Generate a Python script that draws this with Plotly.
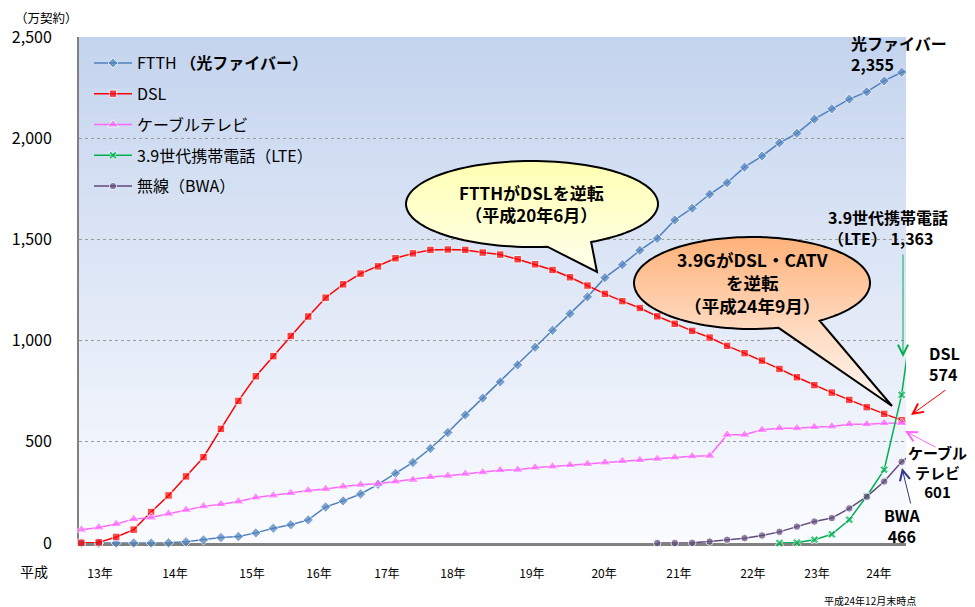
import math
import plotly.graph_objects as go

# ---------------- data (万契約, quarterly, H12.12 .. H24.12) ----------------
quarters = ["H12.12",
            "H13.3", "H13.6", "H13.9", "H13.12", "H14.3", "H14.6", "H14.9", "H14.12",
            "H15.3", "H15.6", "H15.9", "H15.12", "H16.3", "H16.6", "H16.9", "H16.12",
            "H17.3", "H17.6", "H17.9", "H17.12", "H18.3", "H18.6", "H18.9", "H18.12",
            "H19.3", "H19.6", "H19.9", "H19.12", "H20.3", "H20.6", "H20.9", "H20.12",
            "H21.3", "H21.6", "H21.9", "H21.12", "H22.3", "H22.6", "H22.9", "H22.12",
            "H23.3", "H23.6", "H23.9", "H23.12", "H24.3", "H24.6", "H24.9", "H24.12"]

ftth = [0, 0, 0, 0, 0, 1, 6, 15, 27, 32, 50, 73, 90, 114, 178, 208, 242,
        290, 344, 398, 467, 546, 633, 716, 796, 880, 967, 1051, 1133, 1216, 1311, 1375, 1446,
        1505, 1596, 1654, 1723, 1780, 1857, 1912, 1977, 2024, 2094, 2145, 2193, 2229, 2283, 2326, 2355]
dsl = [1, 3, 30, 66, 153, 235, 329, 424, 564, 702, 824, 923, 1023, 1119, 1212, 1278, 1331,
       1367, 1407, 1431, 1448, 1450, 1448, 1435, 1425, 1402, 1377, 1349, 1313, 1272, 1231, 1195, 1161,
       1120, 1083, 1048, 1015, 974, 938, 901, 860, 819, 780, 743, 707, 671, 638, 607, 574]
catv = [66, 77, 94, 118, 126, 145, 164, 181, 192, 205, 225, 235, 247, 260, 267, 279, 288,
        293, 304, 312, 326, 332, 342, 349, 360, 362, 373, 378, 385, 390, 398, 405, 410,
        416, 423, 428, 431, 535, 535, 559, 567, 567, 573, 576, 587, 587, 592, 593, 601]
lte = [None] * 40 + [0, 2, 16, 43, 115, 231, 362, 732, 1363]
bwa = [None] * 33 + [0, 0, 1, 7, 16, 24, 37, 55, 81, 106, 123, 171, 229, 304, 401, 466]

series_names = ["FTTH <b>（光ファイバー）</b>", "DSL", "ケーブルテレビ",
                "3.9世代携帯電話（LTE）", "無線（BWA）"]

year_tick_pos = [1.07, 5.37, 9.78, 13.62, 17.51, 21.29, 25.82, 29.95, 34.24, 38.48, 42.15, 45.70]
year_tick_text = ["13年", "14年", "15年", "16年", "17年", "18年",
                  "19年", "20年", "21年", "22年", "23年", "24年"]
y_ticks = [0, 500, 1000, 1500, 2000, 2500]

# ---------------- geometry helpers (page pixel -> paper) ----------------
OFF = 8                      # page body margin in the browser
W, H = 975 - OFF, 607 - OFF  # figure size that fits the window
PL, PT, PW, PH = 79 - OFF, 37 - OFF, 827, 506
FONT = "Noto Sans CJK JP"


def px(x, y):
    """page-pixel coordinates (as in the reference picture) -> paper coords"""
    x -= OFF
    y -= OFF
    return ((x - PL) / PW, (PT + PH - y) / PH)


def lerp_stops(stops, y):
    if y <= stops[0][0]:
        return stops[0][1]
    for (y0, c0), (y1, c1) in zip(stops[:-1], stops[1:]):
        if y <= y1:
            f = (y - y0) / (y1 - y0)
            return tuple(round(a + (b - a) * f) for a, b in zip(c0, c1))
    return stops[-1][1]


def rgb(c):
    return "rgb(%d,%d,%d)" % c


def clip_half(poly, yv, ge):
    out = []
    n = len(poly)
    for i in range(n):
        p, q = poly[i], poly[(i + 1) % n]
        pin = p[1] >= yv if ge else p[1] <= yv
        qin = q[1] >= yv if ge else q[1] <= yv
        if pin:
            out.append(p)
        if pin != qin:
            t = (yv - p[1]) / (q[1] - p[1])
            out.append((p[0] + t * (q[0] - p[0]), yv))
    return out


def to_path(poly):
    s = ""
    for i, (x, y) in enumerate(poly):
        X, Y = px(x, y)
        s += ("M" if i == 0 else "L") + "%.5f,%.5f" % (X, Y)
    return s + "Z"


def bubble_outline(cx, cy, rx, ry, tr, tl, tip):
    pts = []
    total = tr - (tl - 360)
    steps = 120
    for s in range(steps + 1):
        a = math.radians(tr - total * s / steps)
        pts.append((cx + rx * math.cos(a), cy + ry * math.sin(a)))
    pts.append(tip)
    return pts


shapes = []

# plot-area gradient background (page pixels 37..543)
TOP, BOT = 37, 543
bg_stops = [(TOP, (196, 212, 238)), (BOT, (251, 252, 255))]
nb = 80
for k in range(nb):
    ya = TOP + (BOT - TOP) * k / nb
    yb = TOP + (BOT - TOP) * (k + 1) / nb
    col = lerp_stops(bg_stops, (ya + yb) / 2)
    y0p = px(0, yb + 0.6)[1]
    y1p = px(0, ya)[1]
    shapes.append(dict(type="rect", xref="paper", yref="paper", x0=0, x1=1,
                       y0=max(0, y0p), y1=min(1, y1p), fillcolor=rgb(col),
                       line=dict(width=0), layer="below"))


def add_bubble(outline, stops, band=3.0):
    ys = [p[1] for p in outline]
    ymin, ymax = min(ys), max(ys)
    y = ymin
    while y < ymax:
        yb = min(y + band, ymax)
        poly = clip_half(outline, y, True)
        poly = clip_half(poly, yb + 0.7, False) if poly else poly
        if len(poly) >= 3:
            shapes.append(dict(type="path", xref="paper", yref="paper", path=to_path(poly),
                               fillcolor=rgb(lerp_stops(stops, (y + yb) / 2)),
                               line=dict(width=0), layer="above"))
        y = yb
    shapes.append(dict(type="path", xref="paper", yref="paper", path=to_path(outline),
                       fillcolor="rgba(0,0,0,0)", line=dict(color="#000000", width=2),
                       layer="above"))


yellow = bubble_outline(532, 204, 126, 43, 62, 83, (597, 272))
add_bubble(yellow, [(161, (255, 255, 178)), (245, (255, 255, 222)), (272, (255, 255, 240))])
orange = bubble_outline(752, 283, 118, 46, 55, 77, (892, 406))
add_bubble(orange, [(237, (255, 178, 122)), (329, (255, 218, 192)), (406, (255, 248, 242))])

# ---------------- traces ----------------
colors = ["#4F81BD", "#FF0000", "#FF66FF", "#00B050", "#604A7B"]
symbols = ["diamond", "square", "triangle-up", "x", "circle"]
msizes = [8, 7.5, 10, 7.5, 7.5]
values = [ftth, dsl, catv, lte, bwa]
xs = list(range(len(quarters)))

fig = go.Figure()
for i, (name, vals) in enumerate(zip(series_names, values)):
    sizes = [msizes[i]] * (len(xs) - 1) + [0]
    fig.add_trace(go.Scatter(
        x=xs, y=vals, name=name, mode="lines+markers", customdata=quarters,
        line=dict(color=colors[i], width=1.5),
        marker=dict(symbol=symbols[i], size=sizes, color=colors[i]),
        cliponaxis=False, legendgroup="g%d" % i,
        hovertemplate="%{customdata}: %{y:,}<extra></extra>"))

# ---------------- annotations ----------------
ann = []


def text_at(x, y, t, size=16, bold=True, xanchor="center", align="center", color="#000000"):
    X, Y = px(x, y)
    if bold:
        t = "<br>".join("<b>%s</b>" % s for s in t.split("<br>"))
    ann.append(dict(xref="paper", yref="paper", x=X, y=Y, text=t, align=align,
                    showarrow=False, xanchor=xanchor, yanchor="middle",
                    font=dict(size=size, color=color, family=FONT)))


def arrow(hx, hy, tx, ty, color):
    X, Y = px(hx, hy)
    ann.append(dict(xref="paper", yref="paper", x=X, y=Y, ax=tx - hx, ay=ty - hy, text="",
                    showarrow=True, arrowhead=5, arrowsize=2, arrowwidth=1, arrowcolor=color))


text_at(13, 17, "（万契約）", size=12.5, bold=False, xanchor="left")
text_at(34, 571, "平成", size=14, bold=False)
text_at(870, 600, "平成24年12月末時点", size=10, bold=False)

text_at(531, 203, "FTTHがDSLを逆転<br>（平成20年6月）", size=17)
text_at(752, 282, "3.9GがDSL・CATV<br>を逆転<br>（平成24年9月）", size=17.5)

text_at(849, 53, "光ファイバー<br>2,355", xanchor="left", align="left")
text_at(826, 227, "3.9世代携帯電話<br>（LTE） 1,363", xanchor="left", align="left")
text_at(927, 363, "DSL<br>574", xanchor="left", align="left")
text_at(938, 472, "ケーブル<br>テレビ<br>601", size=15)
text_at(902, 525, "BWA<br>466")

arrow(903, 357, 903, 253, "#00B050")
arrow(911, 415, 947, 389, "#FF0000")
arrow(905, 431, 937, 448, "#FF66FF")
arrow(902, 468, 911, 505, "#333388")

lx, ly = px(89, 46)
fig.update_layout(
    width=W, height=H,
    margin=dict(l=PL, r=W - PL - PW, t=PT, b=H - PT - PH, pad=0, autoexpand=False),
    paper_bgcolor="white", plot_bgcolor="white",
    font=dict(family=FONT, color="#000000"),
    showlegend=True,
    legend=dict(x=lx, y=ly, xanchor="left", yanchor="top", font=dict(size=16, color="#000000"),
                bgcolor="rgba(0,0,0,0)", traceorder="grouped", tracegroupgap=7,
                itemwidth=38),
    xaxis=dict(range=[-0.132, 47.25], tickvals=year_tick_pos, ticktext=year_tick_text,
               showgrid=False, zeroline=False, showline=True, linecolor="#808080", linewidth=2.5,
               ticks="", tickfont=dict(size=12, color="#000000"), ticklabelstandoff=18,
               layer="below traces", fixedrange=True, automargin=False),
    yaxis=dict(range=[0, 2500], tickvals=y_ticks, tickformat=",d", showgrid=True,
               gridcolor="#9A9A9A", griddash="dot", gridwidth=1, zeroline=False,
               showline=True, linecolor="#808080", linewidth=2, ticks="",
               tickfont=dict(size=16, color="#000000"), ticklabelstandoff=22,
               layer="below traces", fixedrange=True, automargin=False),
    shapes=shapes,
    annotations=ann,
)

fig.write_html("out.html")
